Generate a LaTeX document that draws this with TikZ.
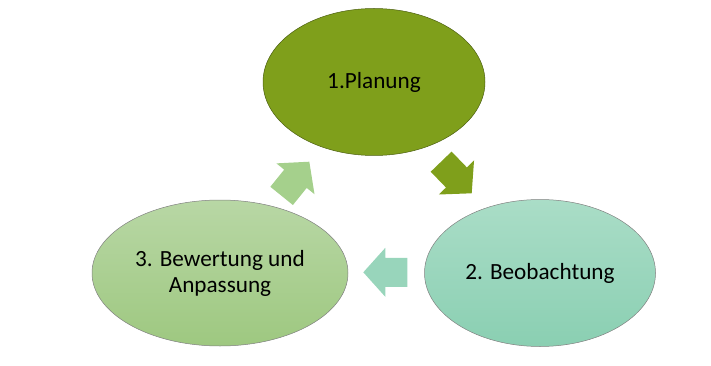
\documentclass[tikz,border=0pt]{standalone}
\usepackage{fontspec}
\setmainfont{Carlito}
\usetikzlibrary{shapes.geometric}
\definecolor{olivgruen}{RGB}{127,159,27}
\definecolor{mintoben}{RGB}{170,221,199}
\definecolor{mintunten}{RGB}{138,207,178}
\definecolor{hellgruenoben}{RGB}{184,215,165}
\definecolor{hellgruenunten}{RGB}{158,200,128}
\definecolor{mintpfeil}{RGB}{152,213,187}
\definecolor{gruenpfeil}{RGB}{165,208,140}
\tikzset{blockarrow/.style={line join=miter}}
\begin{document}
\begin{tikzpicture}[x=1pt,y=-1pt,every node/.style={ellipse,draw=black!50,line width=0.5pt,inner sep=0pt,align=center,font=\fontsize{23.2}{26}\selectfont}]
\useasboundingbox (0,0) rectangle (711,366);
\node[fill=olivgruen,draw=olivgruen!60!black,minimum width=222pt,minimum height=147pt] (plan) at (374,82) {1.Planung};
\node[top color=mintoben,bottom color=mintunten,minimum width=231pt,minimum height=147pt] (beob) at (540,273) {2. Beobachtung};
\node[top color=hellgruenoben,bottom color=hellgruenunten,minimum width=256pt,minimum height=146pt] (bewert) at (220,273) {3. Bewertung und\\Anpassung};
% Pfeile
\fill[blockarrow,olivgruen,shift={(471.7,193.3)},rotate=-46] (-44,-14.5) -- (-22,-14.5) -- (-22,-24.5) -- (0,0) -- (-22,24.5) -- (-22,14.5) -- (-44,14.5) -- cycle;
\fill[blockarrow,mintpfeil,shift={(363.3,272.3)},rotate=180] (-44,-14.5) -- (-22,-14.5) -- (-22,-24.5) -- (0,0) -- (-22,24.5) -- (-22,14.5) -- (-44,14.5) -- cycle;
\fill[blockarrow,gruenpfeil,shift={(309.3,161.7)},rotate=51] (-44,-14.5) -- (-22,-14.5) -- (-22,-24.5) -- (0,0) -- (-22,24.5) -- (-22,14.5) -- (-44,14.5) -- cycle;
\end{tikzpicture}
\end{document}
